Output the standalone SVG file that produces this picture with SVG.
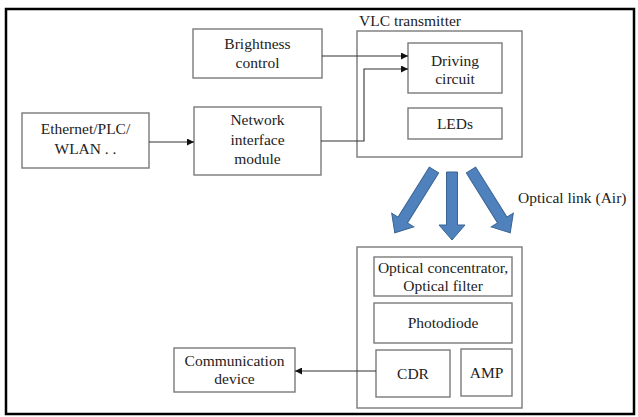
<svg xmlns="http://www.w3.org/2000/svg" width="638" height="417" viewBox="0 0 638 417">
<style>
.box{fill:#fff;stroke:#7a7a7a;stroke-width:1.4}
.t{font-size:15.5px;fill:#222;text-anchor:middle}
.lbl{font-size:15.5px;fill:#222}
.wire{fill:none;stroke:#333;stroke-width:1.1}
.beam{fill:#4f81bd;stroke:#3a6394;stroke-width:1}
</style>
<defs>
<marker id="ah" viewBox="0 0 10 10" refX="10" refY="5" markerWidth="7" markerHeight="7" markerUnits="userSpaceOnUse" orient="auto">
<path d="M0,0 L10,5 L0,10 Z" fill="#111"/>
</marker>
<path id="beamC" d="M-5.5,0 L5.5,0 L5.5,53 L13,53 L0,68 L-13,53 L-5.5,53 Z"/>
<path id="beamS" d="M-5.5,0 L5.5,0 L5.5,59 L13,59 L0,74 L-13,59 L-5.5,59 Z"/>
</defs>
<rect x="0" y="0" width="638" height="417" fill="#fff"/>
<rect x="6" y="9" width="628" height="405" fill="none" stroke="#000" stroke-width="2.5"/>

<g font-family="'Liberation Serif', 'DejaVu Serif', 'Times New Roman', serif">
<g id="vlc-transmitter">
<rect class="box" x="357" y="31" width="165" height="126"/>
<text class="lbl" x="359" y="26">VLC transmitter</text>
</g>
<g id="brightness-control">
<rect class="box" x="193" y="29" width="129" height="49"/>
<text class="t" x="257.5" y="49">Brightness</text>
<text class="t" x="257.5" y="68">control</text>
</g>
<g id="ethernet">
<rect class="box" x="22" y="113" width="127" height="55"/>
<text class="t" x="85.5" y="134">Ethernet/PLC/</text>
<text class="t" x="85.5" y="154">WLAN . .</text>
</g>
<g id="network-interface">
<rect class="box" x="194" y="107" width="127" height="68"/>
<text class="t" x="257.5" y="125">Network</text>
<text class="t" x="257.5" y="145">interface</text>
<text class="t" x="257.5" y="164">module</text>
</g>
<g id="driving-circuit">
<rect class="box" x="408" y="43" width="94" height="50"/>
<text class="t" x="455" y="66">Driving</text>
<text class="t" x="455" y="84">circuit</text>
</g>
<g id="leds">
<rect class="box" x="408" y="108" width="94" height="31"/>
<text class="t" x="455" y="129">LEDs</text>
</g>

<g id="receiver">
<rect class="box" x="357" y="247" width="165" height="161"/>
</g>
<g id="optical-concentrator">
<rect class="box" x="374" y="257" width="138" height="39"/>
<text class="t" x="443" y="273">Optical concentrator,</text>
<text class="t" x="443" y="291">Optical filter</text>
</g>
<g id="photodiode">
<rect class="box" x="374" y="303" width="138" height="40"/>
<text class="t" x="443" y="328">Photodiode</text>
</g>
<g id="cdr">
<rect class="box" x="376" y="350" width="74" height="47" stroke="#555"/>
<text class="t" x="413" y="379">CDR</text>
</g>
<g id="amp">
<rect class="box" x="461" y="349" width="51" height="47"/>
<text class="t" x="486.5" y="378">AMP</text>
</g>
<g id="communication-device">
<rect class="box" x="174" y="348" width="121" height="44"/>
<text class="t" x="234.5" y="366">Communication</text>
<text class="t" x="234.5" y="384">device</text>
</g>
<text class="lbl" x="518" y="203">Optical link (Air)</text>
</g>

<g id="connectors">
<path class="wire" d="M149,142 L194,142" marker-end="url(#ah)"/>
<path class="wire" d="M322,56 L408,56" marker-end="url(#ah)"/>
<path class="wire" d="M321,141 L364,141 L364,69 L408,69" marker-end="url(#ah)"/>
<path class="wire" d="M376,371 L295,371" marker-end="url(#ah)"/>
<use href="#beamS" class="beam" transform="translate(434,170) rotate(32)"/>
<use href="#beamC" class="beam" transform="translate(452,172)"/>
<use href="#beamS" class="beam" transform="translate(471,170) rotate(-32)"/>
</g>
</svg>
